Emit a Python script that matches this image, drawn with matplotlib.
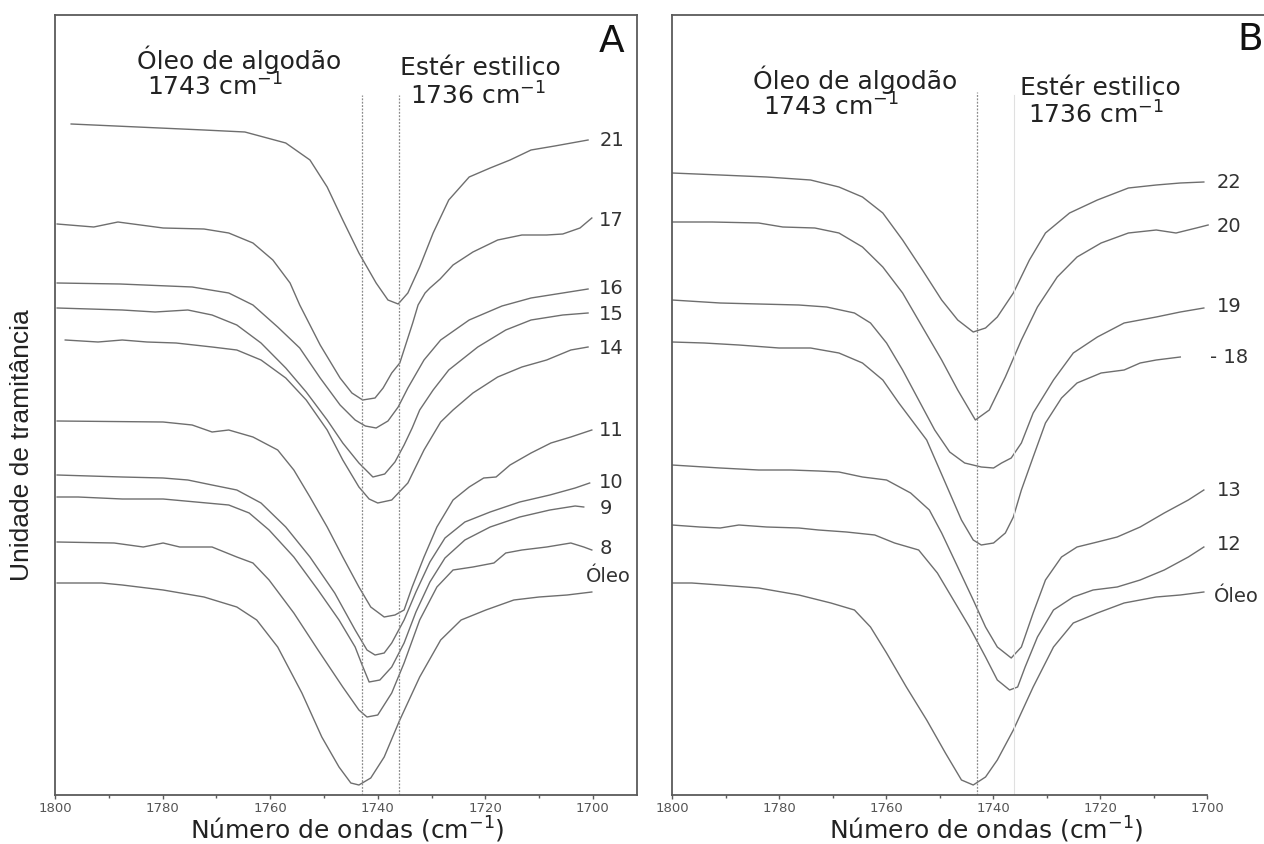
import matplotlib
matplotlib.use('Agg')
import matplotlib.pyplot as plt
from matplotlib.ticker import FixedLocator

# ---- painel A : numero de ondas (cm-1) e transmitancia (u.a.) ----
a21_wn = [1797, 1772.3, 1764.7, 1757.1, 1752.6, 1749.4, 1746.5, 1743.5, 1740.3, 1738.1, 1736.2,
          1734.4, 1732.2, 1729.7, 1726.8, 1723, 1719.1, 1715.4, 1711.5, 1707.1, 1700.9]
a21_t = [671, 665, 663, 652, 635, 608, 575, 542, 512, 495, 491,
         502, 528, 562, 595, 618, 627, 635, 645, 649, 655]

a17_wn = [1799.6, 1792.8, 1788.3, 1779.9, 1772.3, 1767.7, 1763.2, 1759.5, 1756.3, 1754.5, 1750.7,
          1747, 1744.8, 1742.8, 1740.5, 1739, 1737.4, 1735.9, 1734.4, 1733.5, 1732.5, 1731.2,
          1730.3, 1728.4, 1726, 1722.3, 1717.7, 1713.2, 1708.6, 1705.6, 1702.4, 1700.2]
a17_t = [571, 568, 573, 567, 566, 562, 552, 535, 512, 490, 450,
         417, 402, 395, 397, 407, 422, 432, 457, 472, 490, 502,
         507, 516, 530, 543, 555, 560, 560, 561, 567, 577]

a16_wn = [1799.6, 1787.9, 1774.5, 1767.7, 1763.2, 1758.6, 1754.5, 1750.7, 1747, 1744.2, 1742.3,
          1740.3, 1738.1, 1736.2, 1734.4, 1731.4, 1728.3, 1723, 1716.9, 1711.5, 1705.6, 1700.9]
a16_t = [512, 511, 508, 502, 490, 468, 447, 417, 390, 375, 369,
         367, 374, 388, 407, 435, 455, 475, 489, 497, 502, 506]

a15_wn = [1799.6, 1787.5, 1781.4, 1775.3, 1770.8, 1766.2, 1761.7, 1757.1, 1753.3, 1749.4, 1746.5,
          1743.5, 1740.9, 1738.7, 1736.8, 1735.1, 1733.6, 1732.2, 1729.7, 1726.8, 1721.4, 1716.2,
          1711.5, 1705.6, 1700.9]
a15_t = [487, 485, 483, 485, 480, 470, 452, 427, 403, 375, 352,
         332, 318, 321, 333, 350, 367, 385, 405, 425, 448, 465,
         475, 480, 482]

a14_wn = [1798.1, 1792, 1787.5, 1782.9, 1777.5, 1770.8, 1766.2, 1761.7, 1757.1, 1753.3, 1749.4,
          1746.5, 1743.5, 1741.6, 1740, 1737.4, 1734.4, 1731.4, 1728.3, 1726, 1722.3, 1717.7,
          1713.2, 1708.6, 1704.1, 1700.9]
a14_t = [455, 453, 455, 453, 452, 448, 445, 435, 417, 395, 365,
         335, 308, 296, 292, 295, 312, 345, 373, 385, 402, 418,
         428, 435, 445, 448]

a11_wn = [1799.6, 1779.9, 1774.5, 1770.8, 1767.7, 1763.2, 1758.6, 1755.6, 1752.6, 1749.4, 1746.5,
          1743.5, 1741.3, 1738.8, 1736.8, 1735.1, 1733.6, 1731.4, 1729, 1726, 1723, 1720.3,
          1718, 1715.4, 1711.5, 1707.8, 1704.1, 1700.2]
a11_t = [374, 373, 370, 363, 365, 358, 345, 325, 298, 268, 238,
         208, 188, 178, 180, 185, 208, 238, 268, 295, 308, 317,
         318, 330, 342, 352, 358, 365]

a10_wn = [1799.6, 1787.5, 1779.9, 1775.3, 1770.8, 1766.2, 1761.7, 1757.1, 1752.6, 1748, 1744.2,
          1742, 1740.5, 1738.8, 1737.4, 1735.1, 1732.9, 1730.3, 1727.5, 1723.8, 1719.1, 1713.6,
          1708, 1703.3, 1700.6]
a10_t = [320, 318, 317, 315, 310, 305, 292, 268, 238, 202, 165,
         145, 140, 142, 152, 175, 203, 233, 257, 273, 283, 293,
         300, 307, 312]

a9_wn = [1799.6, 1795.7, 1787.5, 1779.9, 1773.8, 1767.7, 1763.9, 1760.2, 1755.6, 1751.1, 1747.2,
         1744.2, 1742.9, 1741.6, 1739.6, 1737.4, 1735.1, 1732.9, 1730.3, 1727.5, 1723.8, 1719.1,
         1713.6, 1708, 1703.3, 1701.7]
a9_t = [298, 298, 296, 296, 293, 290, 282, 265, 238, 205, 175,
        148, 130, 113, 115, 128, 152, 183, 213, 237, 255, 268,
        278, 285, 289, 288]

a8_wn = [1799.6, 1789, 1783.6, 1779.9, 1776.8, 1770.8, 1766.2, 1763.2, 1760.2, 1755.6, 1751.1,
         1746.5, 1743.5, 1742, 1740, 1737.4, 1735.1, 1732.2, 1729, 1726, 1722.3, 1718.4,
         1716.2, 1713.2, 1708.6, 1704.1, 1701.7, 1700.2]
a8_t = [253, 252, 248, 252, 248, 248, 238, 232, 215, 182, 145,
        108, 85, 78, 80, 102, 132, 175, 208, 225, 228, 232,
        242, 245, 248, 252, 248, 245]

a_oleo_wn = [1799.6, 1791.3, 1787.5, 1779.9, 1772.3, 1766.2, 1762.5, 1758.6, 1754.1, 1750.4, 1747.2,
             1745, 1743.5, 1741.3, 1738.8, 1735.9, 1732.2, 1728.3, 1724.5, 1719.9, 1714.7, 1710,
             1704.8, 1700.2]
a_oleo_t = [212, 212, 210, 205, 198, 188, 175, 148, 102, 58, 28,
            12, 10, 17, 38, 75, 118, 155, 175, 185, 195, 198,
            200, 203]

# ---- painel B ----
b22_wn = [1800, 1791, 1782.3, 1774.1, 1768.8, 1764.4, 1760.6, 1756.9, 1753.2, 1749.6, 1746.6, 1743.7,
          1741.4, 1739.2, 1736.2, 1733.2, 1730.2, 1725.7, 1720.5, 1714.7, 1709.5, 1705, 1700.6]
b22_t = [622, 620, 618, 615, 608, 598, 582, 555, 525, 495, 475, 463,
         467, 478, 502, 535, 562, 582, 595, 607, 610, 612, 613]

b20_wn = [1800, 1792.5, 1783.8, 1779.3, 1773.3, 1768.8, 1764.4, 1760.6, 1756.9, 1753.2, 1749.6, 1746.6,
          1744.4, 1743.3, 1740.7, 1737.7, 1734.7, 1731.7, 1728, 1724.3, 1719.8, 1714.7, 1709.5,
          1705.8, 1702, 1699.8]
b20_t = [573, 573, 572, 568, 567, 562, 548, 528, 502, 468, 435, 405,
         385, 375, 385, 418, 455, 488, 518, 538, 552, 562, 565,
         562, 567, 570]

b19_wn = [1800, 1791, 1783.8, 1776.3, 1771.1, 1765.9, 1762.9, 1759.9, 1756.9, 1753.9, 1750.9, 1748.1,
          1745.3, 1742.2, 1739.9, 1738.4, 1736.6, 1734.7, 1732.5, 1728.7, 1725, 1720.5, 1715.5,
          1709.5, 1705, 1700.6]
b19_t = [495, 492, 491, 490, 488, 482, 472, 452, 425, 395, 365, 343,
         332, 328, 327, 332, 337, 352, 382, 415, 442, 458, 472,
         478, 483, 487]

b18_wn = [1800, 1794, 1787.5, 1780, 1774.1, 1768.8, 1764.4, 1760.6, 1757.6, 1752.4, 1748.9, 1745.9,
          1743.7, 1742.2, 1739.9, 1737.7, 1736.2, 1734.7, 1732.5, 1730.2, 1727.2, 1724.3, 1719.8,
          1715.5, 1712.5, 1709.5, 1705]
b18_t = [453, 452, 450, 447, 447, 442, 432, 415, 392, 355, 312, 275,
         255, 250, 252, 262, 278, 305, 338, 372, 397, 412, 422,
         425, 432, 435, 438]

b13_wn = [1800, 1791, 1783.8, 1777.8, 1772.6, 1768.8, 1764.4, 1759.9, 1755.4, 1751.9, 1749.6, 1746.6,
          1743.7, 1741.4, 1739.2, 1736.6, 1734.7, 1732.5, 1730.2, 1727.2, 1724.3, 1720.5, 1716.8,
          1712.5, 1708, 1703.5, 1700.6]
b13_t = [330, 327, 325, 325, 324, 323, 318, 315, 302, 285, 262, 228,
         195, 168, 148, 137, 148, 182, 215, 238, 248, 253, 258,
         268, 282, 295, 305]

b12_wn = [1800, 1794.8, 1791, 1787.5, 1782.3, 1776.3, 1772.6, 1767.4, 1762.1, 1758.4, 1753.9, 1750.4,
          1747.4, 1744.4, 1741.4, 1739.2, 1736.9, 1735.4, 1734, 1731.7, 1728.7, 1725, 1721.3,
          1716.8, 1712.5, 1708, 1703.5, 1700.6]
b12_t = [270, 268, 267, 270, 268, 267, 265, 263, 260, 252, 245, 222,
         195, 168, 138, 115, 105, 108, 128, 158, 185, 198, 205,
         208, 215, 225, 238, 248]

b_oleo_wn = [1800, 1796.3, 1791, 1783.8, 1776.3, 1770.3, 1765.9, 1762.9, 1759.9, 1756.2, 1752.4, 1748.9,
             1745.9, 1743.7, 1741.4, 1739.2, 1736.2, 1732.5, 1728.7, 1725, 1720.5, 1715.5, 1709.5,
             1705, 1700.6]
b_oleo_t = [212, 212, 210, 207, 200, 192, 185, 168, 142, 108, 75, 42,
            15, 10, 18, 35, 65, 108, 148, 172, 182, 192, 198,
            200, 203]

# rotulos das amostras e altura do rotulo
a_nomes = ['21', '17', '16', '15', '14', '11', '10', '9', '8', 'Óleo']
a_rot_t = [655, 575, 507, 480, 447, 365, 313, 287, 247, 218]
b_nomes = ['22', '20', '19', '- 18', '13', '12', 'Óleo']
b_rot_t = [613, 568, 488, 438, 305, 250, 198]

banda_oleo = 1743
banda_ester = 1736

W, H = 1264, 844
fig = plt.figure(figsize=(W / 100, H / 100), dpi=100)

cor_linha = '#6e6e6e'
cor_eixo = '#5a5a5a'


def px(x0, y0, x1, y1):
    return [x0 / W, 1 - y1 / H, (x1 - x0) / W, (y1 - y0) / H]


def monta_eixo(ax, xmax):
    ax.set_xlim(1800, xmax)
    ax.set_ylim(0, 780)
    ax.xaxis.set_major_locator(FixedLocator([1800, 1780, 1760, 1740, 1720, 1700]))
    ax.xaxis.set_minor_locator(FixedLocator([1790, 1770, 1750, 1730, 1710]))
    ax.tick_params(axis='x', which='major', direction='out', length=3, width=1,
                   colors=cor_eixo, labelsize=9.5, labelcolor='#555555', pad=2)
    ax.tick_params(axis='x', which='minor', direction='out', length=2, width=1, colors=cor_eixo)
    ax.set_yticks([])
    for s in ax.spines.values():
        s.set_color(cor_eixo)
        s.set_linewidth(1.3)


axA = fig.add_axes(px(55, 15, 637, 795))
axB = fig.add_axes(px(672, 15, 1275, 795))
monta_eixo(axA, 1691.8)
monta_eixo(axB, 1687.3)
axB.spines['right'].set_visible(False)
axB.spines['bottom'].set_bounds(1800, 1700)

curvas_A = [(a21_wn, a21_t), (a17_wn, a17_t), (a16_wn, a16_t), (a15_wn, a15_t), (a14_wn, a14_t),
            (a11_wn, a11_t), (a10_wn, a10_t), (a9_wn, a9_t), (a8_wn, a8_t), (a_oleo_wn, a_oleo_t)]
curvas_B = [(b22_wn, b22_t), (b20_wn, b20_t), (b19_wn, b19_t), (b18_wn, b18_t),
            (b13_wn, b13_t), (b12_wn, b12_t), (b_oleo_wn, b_oleo_t)]

# posicao horizontal do rotulo de cada curva (eixo invertido: maior = mais a esquerda)
a_rot_x = [1698.8] * 9 + [1701.3]
b_rot_x = [1698.2, 1698.2, 1698.2, 1699.5, 1698.2, 1698.2, 1698.8]

for ax, curvas, nomes, rot_t, rot_x in [(axA, curvas_A, a_nomes, a_rot_t, a_rot_x),
                                        (axB, curvas_B, b_nomes, b_rot_t, b_rot_x)]:
    for (wn, t), nome, ty, tx in zip(curvas, nomes, rot_t, rot_x):
        ax.plot(wn, t, color=cor_linha, lw=1.0, solid_joinstyle='round')
        ax.text(tx, ty, nome, fontsize=14, color='#333333', ha='left', va='center')

# linhas das bandas
tracejado = (0, (1.5, 1.2))
axA.plot([banda_oleo, banda_oleo], [0, 700], color='#8a8a8a', lw=0.9, ls=tracejado)
axA.plot([banda_ester, banda_ester], [0, 700], color='#8a8a8a', lw=0.9, ls=tracejado)
axB.plot([banda_oleo, banda_oleo], [0, 703], color='#8a8a8a', lw=0.9, ls=tracejado)
axB.plot([banda_ester, banda_ester], [0, 700], color='#e0e0e0', lw=0.8)

fs = 18
tinta = '#222222'
axA.text(1784.8, 735, 'Óleo de algodão', fontsize=fs, color=tinta, va='center')
axA.text(1782.9, 708, r'1743 cm$^{\mathregular{-1}}$', fontsize=fs, color=tinta, va='center')
axA.text(1735.9, 727, 'Estér estilico', fontsize=fs, color=tinta, va='center')
axA.text(1734.0, 699, r'1736 cm$^{\mathregular{-1}}$', fontsize=fs, color=tinta, va='center')
axB.text(1784.9, 715, 'Óleo de algodão', fontsize=fs, color=tinta, va='center')
axB.text(1783.0, 688, r'1743 cm$^{\mathregular{-1}}$', fontsize=fs, color=tinta, va='center')
axB.text(1735.0, 707, 'Estér estilico', fontsize=fs, color=tinta, va='center')
axB.text(1733.5, 680, r'1736 cm$^{\mathregular{-1}}$', fontsize=fs, color=tinta, va='center')

fig.text(612 / W, 1 - 42 / H, 'A', fontsize=27, color='#111111', ha='center', va='center')
fig.text(1250 / W, 1 - 40 / H, 'B', fontsize=27, color='#111111', ha='center', va='center')

fig.text(347 / W, 1 - 830 / H, r'Número de ondas (cm$^{\mathregular{-1}}$)', fontsize=18,
         color=tinta, ha='center', va='center')
fig.text(986 / W, 1 - 830 / H, r'Número de ondas (cm$^{\mathregular{-1}}$)', fontsize=18,
         color=tinta, ha='center', va='center')
fig.text(22 / W, 1 - 445 / H, 'Unidade de tramitância', fontsize=19, family='Liberation Sans',
         color=tinta, rotation=90, ha='center', va='center')

fig.savefig('out.png', dpi=100)
